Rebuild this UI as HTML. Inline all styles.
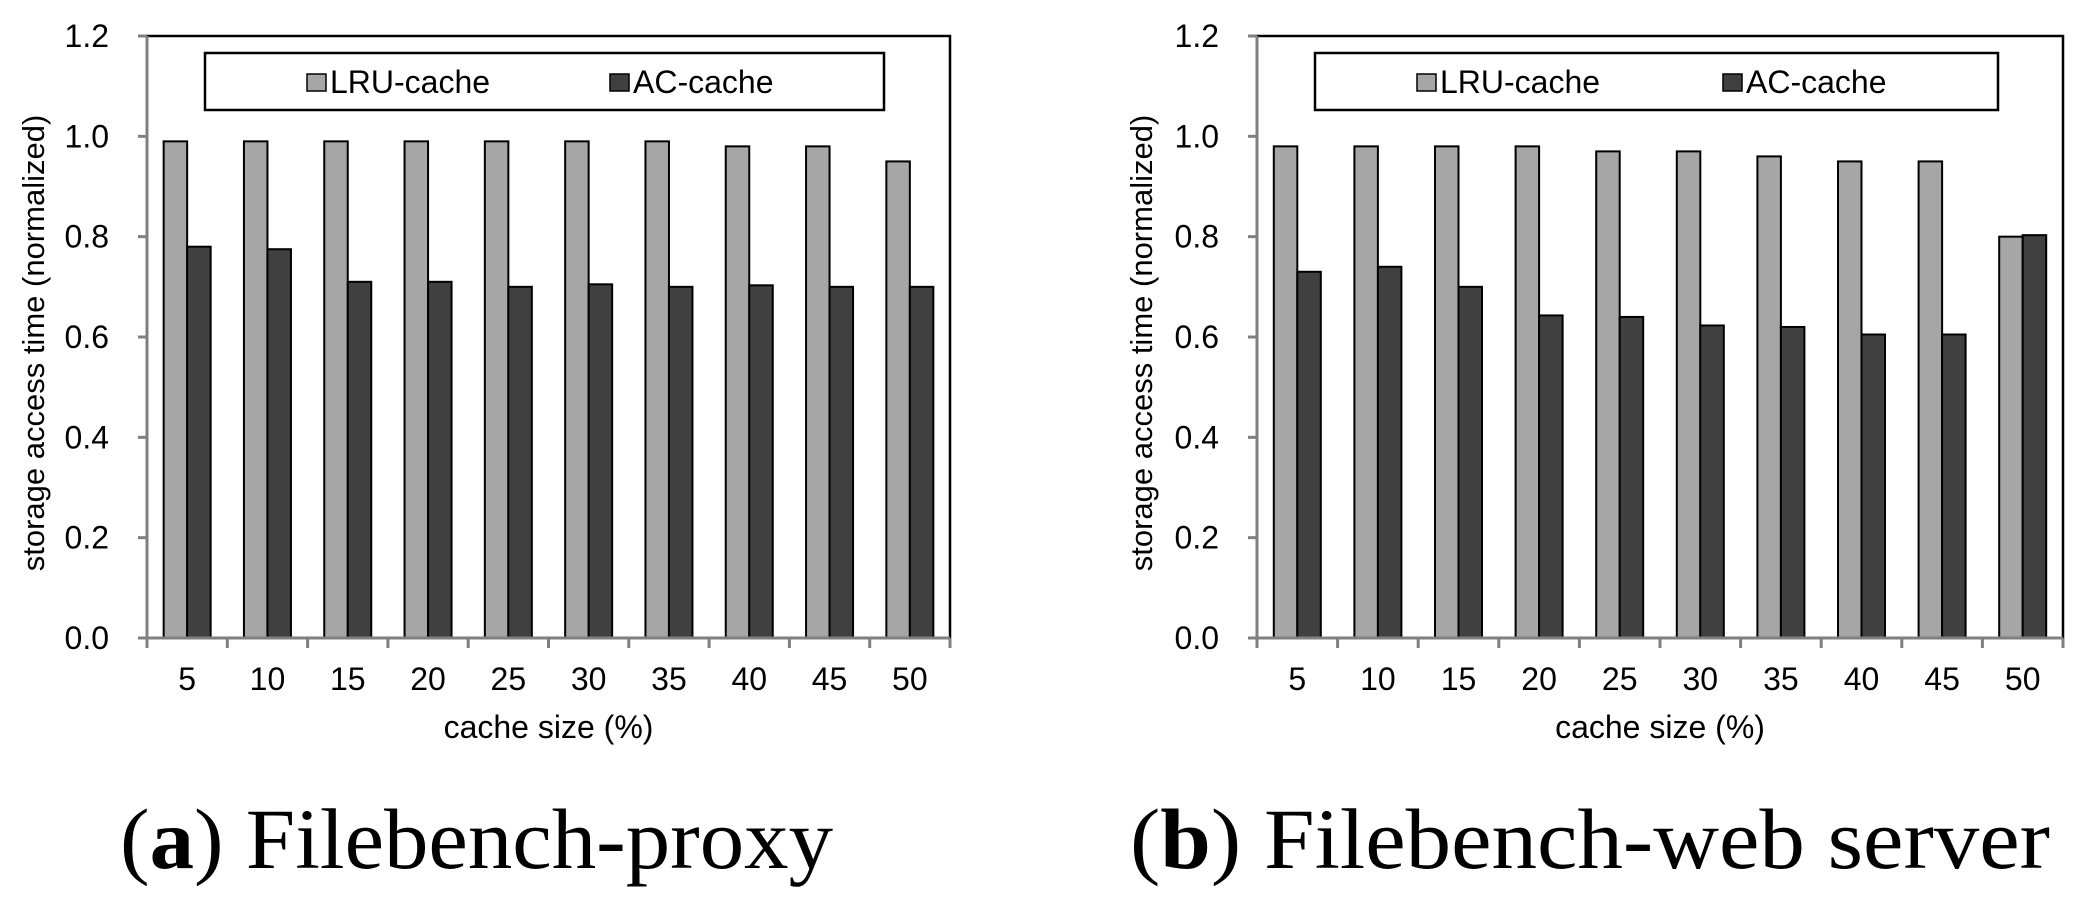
<!DOCTYPE html>
<html><head><meta charset="utf-8"><style>
html,body{margin:0;padding:0;background:#fff;}
svg{display:block;}
text{font-family:"Liberation Sans",sans-serif;}
</style></head><body>
<svg id="c" width="2073" height="899" viewBox="0 0 2073 899"></svg>
<script>
const categories = ["5","10","15","20","25","30","35","40","45","50"];
const proxyLRU = [0.99,0.99,0.99,0.99,0.99,0.99,0.99,0.98,0.98,0.95];
const proxyAC = [0.78,0.775,0.71,0.71,0.70,0.705,0.70,0.703,0.70,0.70];
const webLRU = [0.98,0.98,0.98,0.98,0.97,0.97,0.96,0.95,0.95,0.80];
const webAC = [0.73,0.74,0.70,0.643,0.64,0.623,0.62,0.605,0.605,0.803];
const yTicks = ["0.0","0.2","0.4","0.6","0.8","1.0","1.2"];

const NS="http://www.w3.org/2000/svg";
const svg=document.getElementById('c');
function mk(tag,attrs,parent,txt){const e=document.createElementNS(NS,tag);for(const k in attrs)e.setAttribute(k,attrs[k]);if(txt!==undefined)e.textContent=txt;(parent||svg).appendChild(e);return e;}

function chart(o){
  const g=mk('g',{});
  
  
  const x0=o.x0,x1=o.x1,yTop=36,yBot=638,ymax=1.2;
  const Y=v=>yBot-(v/ymax)*(yBot-yTop);
  const cw=(x1-x0)/categories.length;
  const bw=23.5;
  // frame top/right
  const fr=mk('path',{d:`M${x0} ${yTop} H${x1} V${yBot}`,fill:'none',stroke:'#000','stroke-width':2.5},g);
  
  
  // y ticks
  yTicks.forEach(t=>{
    const v=parseFloat(t);
    const tk=mk('line',{x1:x0-9,x2:x0,y1:Y(v),y2:Y(v),stroke:'#808080','stroke-width':3},g);
    
    
    const tl=mk('text',{x:x0-38,y:Y(v)+11,'text-anchor':'end','font-size':32,fill:'#000'},g,t);
    
    
  });
  // bars
  categories.forEach((c,i)=>{
    const cx=x0+cw*i+cw/2;
    const b1=mk('rect',{x:cx-bw,y:Y(o.lru[i]),width:bw,height:yBot-Y(o.lru[i]),fill:'#a6a6a6',stroke:'#000','stroke-width':2},g);
    
    
    const b2=mk('rect',{x:cx,y:Y(o.ac[i]),width:bw,height:yBot-Y(o.ac[i]),fill:'#404040',stroke:'#000','stroke-width':2},g);
    
    
    const xl=mk('text',{x:cx,y:690,'text-anchor':'middle','font-size':32,fill:'#000'},g,c);
    
    
  });
  for(let i=0;i<=categories.length;i++){
    const tk=mk('line',{x1:x0+cw*i,x2:x0+cw*i,y1:yBot,y2:yBot+10,stroke:'#808080','stroke-width':3},g);
    
    
  }
  // axes
  const ya=mk('line',{x1:x0,x2:x0,y1:yTop,y2:yBot,stroke:'#808080','stroke-width':3},g);
  
  
  const xa=mk('line',{x1:x0-9,x2:x1,y1:yBot,y2:yBot,stroke:'#808080','stroke-width':3},g);
  
  
  // legend
  const lg=mk('g',{},g);
  
  
  mk('rect',{x:o.lx0,y:53,width:o.lx1-o.lx0,height:57,fill:'#fff',stroke:'#000','stroke-width':2.5},lg);
  const s1=mk('rect',{x:o.s1,y:74,width:19,height:17,fill:'#a6a6a6',stroke:'#000','stroke-width':1.5},lg);
  
  
  const t1=mk('text',{x:o.s1+23,y:93,'font-size':32},lg,'LRU-cache');
  
  
  const s2=mk('rect',{x:o.s2,y:74,width:19,height:17,fill:'#404040',stroke:'#000','stroke-width':1.5},lg);
  
  
  const t2=mk('text',{x:o.s2+23,y:93,'font-size':32},lg,'AC-cache');
  
  
  // titles
  const xt=mk('text',{x:(x0+x1)/2,y:738,'text-anchor':'middle','font-size':32},g,'cache size (%)');
  
  
  const yt=mk('text',{x:0,y:0,'text-anchor':'middle','font-size':31,transform:`translate(${o.ytx},343) rotate(-90)`},g,'storage access time (normalized)');
  
  
  const cap=mk('text',{x:o.capx,y:868,'font-size':86,style:'font-family:"Liberation Serif",serif',textLength:o.capw,lengthAdjust:'spacingAndGlyphs'},g);
  
  
  mk('tspan',{},cap,'(');
  mk('tspan',{'font-weight':'bold'},cap,o.letter);
  mk('tspan',{},cap,') '+o.cap);
}
chart({name:'chart-filebench-proxy',x0:147,x1:950,lru:proxyLRU,ac:proxyAC,lx0:205,lx1:884,s1:307,s2:610,ytx:44,capx:120,capw:713,letter:'a',cap:'Filebench-proxy'});
chart({name:'chart-filebench-web-server',x0:1257,x1:2063,lru:webLRU,ac:webAC,lx0:1315,lx1:1998,s1:1417,s2:1723,ytx:1152,capx:1130,capw:920,letter:'b',cap:'Filebench-web server'});
</script>
</body></html>
